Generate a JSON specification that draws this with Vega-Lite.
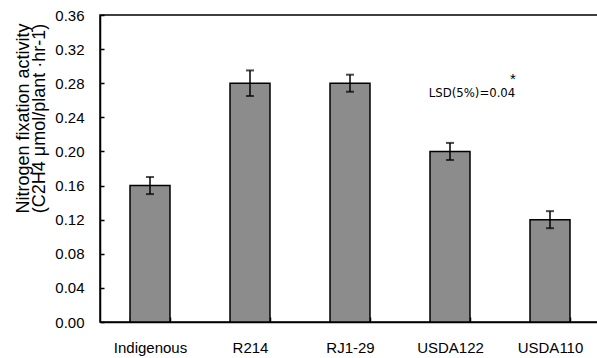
{
  "$schema": "https://vega.github.io/schema/vega-lite/v6.json",
  "width": 500,
  "height": 307,
  "autosize": {"type": "none"},
  "padding": {"left": 100, "top": 15, "right": 0, "bottom": 36},
  "background": "white",
  "config": {
    "view": {"stroke": "black", "strokeWidth": 1.5},
    "font": "Liberation Sans",
    "axis": {
      "domainColor": "black",
      "domainWidth": 1.5,
      "tickColor": "black",
      "tickWidth": 1.5,
      "labelColor": "black",
      "titleColor": "black",
      "labelFont": "Liberation Sans",
      "titleFont": "Liberation Sans",
      "grid": false
    },
    "axisY": {
      "format": ".2f",
      "labelOverlap": false,
      "tickSize": -4,
      "labelPadding": 20,
      "labelFontSize": 15,
      "titleFontSize": 18,
      "titleFontWeight": "normal",
      "titleAngle": 270,
      "titleBaseline": "bottom",
      "titleAlign": "center",
      "titleLineHeight": 16,
      "titleX": -68,
      "titleY": 103
    }
  },
  "datasets": {
    "bars": [
      {"strain": "Indigenous", "value": 0.16, "lo": 0.15, "hi": 0.17},
      {"strain": "R214", "value": 0.28, "lo": 0.265, "hi": 0.295},
      {"strain": "RJ1-29", "value": 0.28, "lo": 0.27, "hi": 0.29},
      {"strain": "USDA122", "value": 0.20, "lo": 0.19, "hi": 0.21},
      {"strain": "USDA110", "value": 0.12, "lo": 0.11, "hi": 0.13}
    ]
  },
  "encoding": {
    "x": {
      "field": "strain",
      "type": "nominal",
      "sort": null,
      "scale": {
        "domain": ["Indigenous", "R214", "RJ1-29", "USDA122", "USDA110"],
        "paddingInner": 0.6,
        "paddingOuter": 0.3
      },
      "axis": {
        "title": null,
        "labelAngle": 0,
        "tickBand": "extent",
        "tickSize": -5,
        "labelPadding": 23,
        "labelFontSize": 15
      }
    }
  },
  "layer": [
    {
      "data": {"name": "bars"},
      "mark": {"type": "bar", "fill": "#8c8c8c", "stroke": "black", "strokeWidth": 1.5},
      "encoding": {
        "y": {
          "field": "value",
          "type": "quantitative",
          "scale": {"domain": [0, 0.36], "nice": false},
          "axis": {
            "values": [0, 0.04, 0.08, 0.12, 0.16, 0.2, 0.24, 0.28, 0.32, 0.36],
            "title": ["Nitrogen fixation activity", "(C2H4 μmol/plant ·hr-1)"]
          }
        }
      }
    },
    {
      "data": {"name": "bars"},
      "mark": {"type": "rule", "color": "black", "strokeWidth": 1.5},
      "encoding": {
        "y": {
          "field": "lo",
          "type": "quantitative",
          "axis": {
            "values": [0, 0.04, 0.08, 0.12, 0.16, 0.2, 0.24, 0.28, 0.32, 0.36],
            "title": ["Nitrogen fixation activity", "(C2H4 μmol/plant ·hr-1)"]
          }
        },
        "y2": {"field": "hi"}
      }
    },
    {
      "data": {"name": "bars"},
      "mark": {"type": "tick", "color": "black", "size": 8, "thickness": 2, "orient": "horizontal"},
      "encoding": {
        "y": {
          "field": "hi",
          "type": "quantitative",
          "axis": {
            "values": [0, 0.04, 0.08, 0.12, 0.16, 0.2, 0.24, 0.28, 0.32, 0.36],
            "title": ["Nitrogen fixation activity", "(C2H4 μmol/plant ·hr-1)"]
          }
        }
      }
    },
    {
      "data": {"name": "bars"},
      "mark": {"type": "tick", "color": "black", "size": 8, "thickness": 2, "orient": "horizontal"},
      "encoding": {
        "y": {
          "field": "lo",
          "type": "quantitative",
          "axis": {
            "values": [0, 0.04, 0.08, 0.12, 0.16, 0.2, 0.24, 0.28, 0.32, 0.36],
            "title": ["Nitrogen fixation activity", "(C2H4 μmol/plant ·hr-1)"]
          }
        }
      }
    },
    {
      "data": {"values": [{"strain": "USDA122", "value": 0.268, "label": "LSD(5%)=0.04"}]},
      "mark": {"type": "text", "font": "DejaVu Sans Condensed", "fontSize": 13, "color": "black", "align": "center", "baseline": "middle", "dx": 22},
      "encoding": {
        "y": {
          "field": "value",
          "type": "quantitative",
          "axis": {
            "values": [0, 0.04, 0.08, 0.12, 0.16, 0.2, 0.24, 0.28, 0.32, 0.36],
            "title": ["Nitrogen fixation activity", "(C2H4 μmol/plant ·hr-1)"]
          }
        },
        "text": {"field": "label"}
      }
    },
    {
      "data": {"values": [{"strain": "USDA122", "value": 0.285, "label": "*"}]},
      "mark": {"type": "text", "font": "Liberation Sans", "fontSize": 15, "color": "black", "align": "center", "baseline": "middle", "dx": 63},
      "encoding": {
        "y": {
          "field": "value",
          "type": "quantitative",
          "axis": {
            "values": [0, 0.04, 0.08, 0.12, 0.16, 0.2, 0.24, 0.28, 0.32, 0.36],
            "title": ["Nitrogen fixation activity", "(C2H4 μmol/plant ·hr-1)"]
          }
        },
        "text": {"field": "label"}
      }
    }
  ]
}
